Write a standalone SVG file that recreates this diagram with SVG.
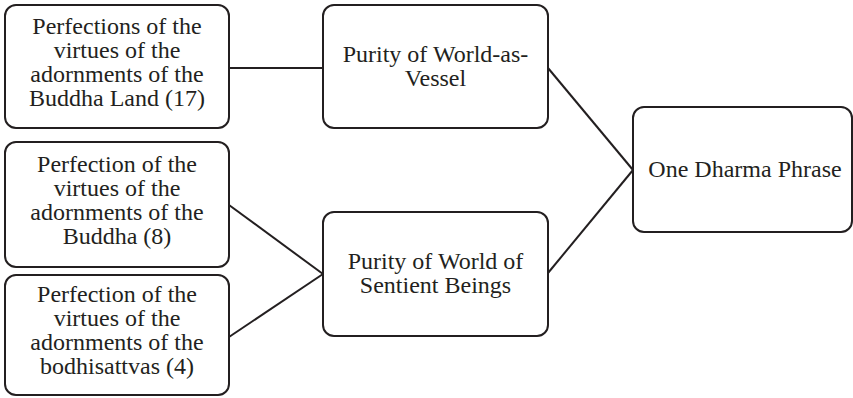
<svg xmlns="http://www.w3.org/2000/svg" width="853" height="398" viewBox="0 0 853 398">
<style>
.box{fill:#fff;stroke:#231f20;stroke-width:2}
.lbl{font-family:"Liberation Serif","Times New Roman",serif;font-size:24px;fill:#231f20;text-anchor:middle}
.conn{stroke:#231f20;stroke-width:2;fill:none}
</style>
<rect width="853" height="398" fill="#fff"/>
<g id="connectors">
<line class="conn" x1="229" y1="68" x2="323" y2="68"/>
<line class="conn" x1="229" y1="205" x2="323" y2="274"/>
<line class="conn" x1="229" y1="337" x2="323" y2="274"/>
<line class="conn" x1="548" y1="68" x2="633" y2="170"/>
<line class="conn" x1="548" y1="273" x2="633" y2="170"/>
</g>
<g id="nodeA">
<rect class="box" x="5" y="5" width="224" height="123" rx="11"/>
<text class="lbl"><tspan x="117" y="33.5">Perfections of the</tspan><tspan x="117" y="57.5">virtues of the</tspan><tspan x="117" y="81.5">adornments of the</tspan><tspan x="117" y="105.5">Buddha Land (17)</tspan></text>
</g>
<g id="nodeC">
<rect class="box" x="5" y="142" width="224" height="125" rx="11"/>
<text class="lbl"><tspan x="117" y="171.5">Perfection of the</tspan><tspan x="117" y="195.5">virtues of the</tspan><tspan x="117" y="219.5">adornments of the</tspan><tspan x="117" y="243.5">Buddha (8)</tspan></text>
</g>
<g id="nodeD">
<rect class="box" x="5" y="275" width="224" height="120" rx="11"/>
<text class="lbl"><tspan x="117" y="302">Perfection of the</tspan><tspan x="117" y="326">virtues of the</tspan><tspan x="117" y="350">adornments of the</tspan><tspan x="117" y="374">bodhisattvas (4)</tspan></text>
</g>
<g id="nodeB">
<rect class="box" x="323" y="5" width="225" height="123" rx="11"/>
<text class="lbl"><tspan x="435.5" y="61.5">Purity of World-as-</tspan><tspan x="435.5" y="85.5">Vessel</tspan></text>
</g>
<g id="nodeE">
<rect class="box" x="323" y="212" width="225" height="124" rx="11"/>
<text class="lbl"><tspan x="435.5" y="269">Purity of World of</tspan><tspan x="435.5" y="293">Sentient Beings</tspan></text>
</g>
<g id="nodeF">
<rect class="box" x="633" y="107" width="219" height="125" rx="11"/>
<text class="lbl" x="745" y="177">One Dharma Phrase</text>
</g>
</svg>
